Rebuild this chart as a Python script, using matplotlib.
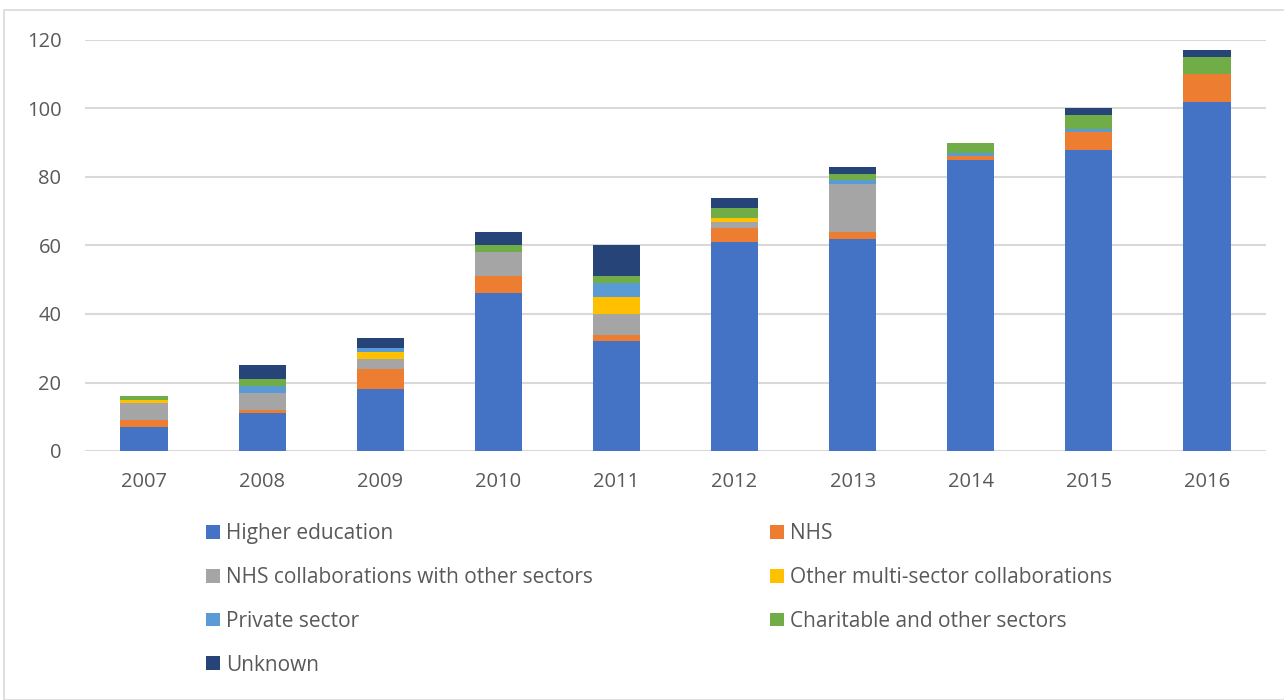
import numpy as np
import matplotlib.pyplot as plt
from matplotlib.patches import Rectangle

plt.rcParams['font.family'] = ['Open Sans', 'DejaVu Sans']

years = ['2007', '2008', '2009', '2010', '2011', '2012', '2013', '2014', '2015', '2016']

higher_education = [7, 11, 18, 46, 32, 61, 62, 85, 88, 102]
nhs = [2, 1, 6, 5, 2, 4, 2, 1, 5, 8]
nhs_collab = [5, 5, 3, 7, 6, 2, 14, 0, 0, 0]
other_multi = [1, 0, 2, 0, 5, 1, 0, 0, 0, 0]
private = [0, 2, 1, 0, 4, 0, 1, 1, 1, 0]
charitable = [1, 2, 0, 2, 2, 3, 2, 3, 4, 5]
unknown = [0, 4, 3, 4, 9, 3, 2, 0, 2, 2]

series = [
    ('Higher education', higher_education, '#4472C4'),
    ('NHS', nhs, '#ED7D31'),
    ('NHS collaborations with other sectors', nhs_collab, '#A5A5A5'),
    ('Other multi-sector collaborations', other_multi, '#FFC000'),
    ('Private sector', private, '#5B9BD5'),
    ('Charitable and other sectors', charitable, '#70AD47'),
    ('Unknown', unknown, '#264478'),
]

fig = plt.figure(figsize=(12.84, 7), dpi=100)
ax = fig.add_axes([85 / 1284, 1 - 451 / 700, 1181 / 1284, 411 / 700])

x = np.arange(len(years))
bottom = np.zeros(len(years))
handles = []
for label, vals, color in series:
    vals = np.array(vals, dtype=float)
    b = ax.bar(x, vals, width=0.4, bottom=bottom, color=color, label=label,
               edgecolor='none', zorder=3)
    handles.append(b)
    bottom += vals

ax.set_xlim(-0.5, len(years) - 0.5)
ax.set_ylim(0, 120)
ax.set_yticks(range(0, 121, 20))
ax.set_xticks(x)
ax.set_xticklabels(years)
ax.yaxis.grid(True, color='#D9D9D9', linewidth=1.5, zorder=0)
ax.set_axisbelow(True)
for s in ax.spines.values():
    s.set_visible(False)
ax.tick_params(axis='both', length=0, labelsize=14.5, labelcolor='#595959')
ax.tick_params(axis='y', pad=17)
ax.tick_params(axis='x', pad=15)

# legend laid out row-wise in two columns like the original
left = [handles[i] for i in (0, 2, 4, 6)]
right = [handles[i] for i in (1, 3, 5)]
common = dict(loc='upper left', frameon=False, fontsize=15, borderpad=0,
              borderaxespad=0, handlelength=0.65, handleheight=0.65,
              handletextpad=0.3, labelspacing=1.1, labelcolor='#595959')
fig.legend(left, [h.get_label() for h in left],
           bbox_to_anchor=(206 / 1284, 1 - 523 / 700), **common)
fig.legend(right, [h.get_label() for h in right],
           bbox_to_anchor=(770 / 1284, 1 - 523 / 700), **common)

fig.patches.append(Rectangle((4 / 1284, 0), 1.2, 1 - 10 / 700,
                             transform=fig.transFigure, fill=False,
                             edgecolor='#D9D9D9', linewidth=1.2))

fig.savefig('out.png', dpi=100)
